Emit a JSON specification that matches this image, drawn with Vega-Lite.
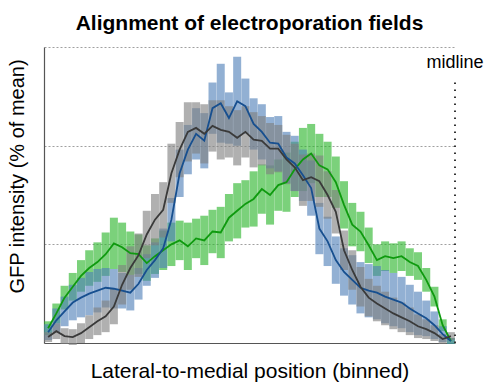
{
"$schema": "https://vega.github.io/schema/vega-lite/v6.json",
"width": 411, "height": 296,
"autosize": {"type": "none"},
"padding": {"left": 44, "top": 47, "right": 29, "bottom": 40},
"title": {"text": "Alignment of electroporation fields", "fontSize": 21, "font": "Liberation Sans", "fontWeight": "bold", "offset": 13, "color": "#000", "anchor": "middle"},
"config": {
  "view": {"stroke": null},
  "font": "Liberation Sans",
  "axisX": {"labels": false, "ticks": false, "grid": false, "domainColor": "#555", "domainWidth": 1.2, "titleFontSize": 21, "titleFontWeight": "normal", "titleColor": "#000", "titleY": 34, "titleBaseline": "alphabetic"},
  "axisY": {"labels": false, "ticks": false, "grid": true, "gridDash": [2, 2], "gridColor": "#888", "gridWidth": 0.8, "domainColor": "#555", "domainWidth": 1.2, "titleFontSize": 20, "titleFontWeight": "normal", "titleColor": "#000", "titleX": -21, "titleY": 129, "titleBaseline": "alphabetic", "titleAngle": -90, "titleAlign": "center"}
},
"datasets": {
  "bins": [
{"s":"green","x":1,"m":15,"e":7},{"s":"green","x":3,"m":30,"e":10},{"s":"green","x":5,"m":46,"e":12},{"s":"green","x":7,"m":57,"e":14},{"s":"green","x":9,"m":68,"e":16},{"s":"green","x":11,"m":76,"e":18},{"s":"green","x":13,"m":82,"e":20},{"s":"green","x":15,"m":90,"e":22},{"s":"green","x":17,"m":101,"e":26},{"s":"green","x":19,"m":97,"e":25},{"s":"green","x":21,"m":91,"e":22},{"s":"green","x":23,"m":90,"e":20},{"s":"green","x":25,"m":81,"e":18},{"s":"green","x":27,"m":88,"e":18},{"s":"green","x":29,"m":94,"e":20},{"s":"green","x":31,"m":100,"e":22},{"s":"green","x":33,"m":104,"e":20},{"s":"green","x":35,"m":98,"e":24},{"s":"green","x":37,"m":106,"e":20},{"s":"green","x":39,"m":104,"e":25},{"s":"green","x":41,"m":113,"e":22},{"s":"green","x":43,"m":112,"e":26},{"s":"green","x":45,"m":127,"e":24},{"s":"green","x":47,"m":134,"e":28},{"s":"green","x":49,"m":141,"e":24},{"s":"green","x":51,"m":146,"e":28},{"s":"green","x":53,"m":156,"e":25},{"s":"green","x":55,"m":150,"e":30},{"s":"green","x":57,"m":160,"e":26},{"s":"green","x":59,"m":163,"e":30},{"s":"green","x":61,"m":176,"e":28},{"s":"green","x":63,"m":186,"e":32},{"s":"green","x":65,"m":192,"e":30},{"s":"green","x":67,"m":180,"e":32},{"s":"green","x":69,"m":176,"e":28},{"s":"green","x":71,"m":163,"e":26},{"s":"green","x":73,"m":140,"e":24},{"s":"green","x":75,"m":120,"e":22},{"s":"green","x":77,"m":113,"e":20},{"s":"green","x":79,"m":99,"e":18},{"s":"green","x":81,"m":84,"e":16},{"s":"green","x":83,"m":88,"e":15},{"s":"green","x":85,"m":86,"e":15},{"s":"green","x":87,"m":88,"e":15},{"s":"green","x":89,"m":82,"e":14},{"s":"green","x":91,"m":78,"e":14},{"s":"green","x":93,"m":64,"e":12},{"s":"green","x":95,"m":47,"e":10},{"s":"green","x":97,"m":18,"e":6},{"s":"green","x":99,"m":2,"e":3},
{"s":"blue","x":1,"m":11,"e":8},{"s":"blue","x":3,"m":23,"e":12},{"s":"blue","x":5,"m":32,"e":15},{"s":"blue","x":7,"m":41,"e":18},{"s":"blue","x":9,"m":46,"e":20},{"s":"blue","x":11,"m":50,"e":22},{"s":"blue","x":13,"m":53,"e":22},{"s":"blue","x":15,"m":56,"e":20},{"s":"blue","x":17,"m":55,"e":20},{"s":"blue","x":19,"m":53,"e":18},{"s":"blue","x":21,"m":51,"e":18},{"s":"blue","x":23,"m":60,"e":16},{"s":"blue","x":25,"m":74,"e":16},{"s":"blue","x":27,"m":84,"e":18},{"s":"blue","x":29,"m":96,"e":20},{"s":"blue","x":31,"m":125,"e":22},{"s":"blue","x":33,"m":172,"e":24},{"s":"blue","x":35,"m":196,"e":25},{"s":"blue","x":37,"m":212,"e":26},{"s":"blue","x":39,"m":205,"e":28},{"s":"blue","x":41,"m":238,"e":26},{"s":"blue","x":43,"m":243,"e":40},{"s":"blue","x":45,"m":228,"e":26},{"s":"blue","x":47,"m":245,"e":45},{"s":"blue","x":49,"m":240,"e":28},{"s":"blue","x":51,"m":222,"e":26},{"s":"blue","x":53,"m":214,"e":28},{"s":"blue","x":55,"m":203,"e":26},{"s":"blue","x":57,"m":202,"e":28},{"s":"blue","x":59,"m":188,"e":26},{"s":"blue","x":61,"m":182,"e":28},{"s":"blue","x":63,"m":170,"e":26},{"s":"blue","x":65,"m":157,"e":28},{"s":"blue","x":67,"m":116,"e":26},{"s":"blue","x":69,"m":103,"e":25},{"s":"blue","x":71,"m":84,"e":24},{"s":"blue","x":73,"m":72,"e":24},{"s":"blue","x":75,"m":64,"e":25},{"s":"blue","x":77,"m":56,"e":26},{"s":"blue","x":79,"m":53,"e":27},{"s":"blue","x":81,"m":51,"e":27},{"s":"blue","x":83,"m":47,"e":27},{"s":"blue","x":85,"m":44,"e":27},{"s":"blue","x":87,"m":41,"e":26},{"s":"blue","x":89,"m":35,"e":24},{"s":"blue","x":91,"m":30,"e":22},{"s":"blue","x":93,"m":25,"e":18},{"s":"blue","x":95,"m":18,"e":14},{"s":"blue","x":97,"m":9,"e":8},{"s":"blue","x":99,"m":2,"e":3},
{"s":"gray","x":1,"m":6,"e":5},{"s":"gray","x":3,"m":12,"e":8},{"s":"gray","x":5,"m":7,"e":8},{"s":"gray","x":7,"m":6,"e":8},{"s":"gray","x":9,"m":10,"e":10},{"s":"gray","x":11,"m":16,"e":12},{"s":"gray","x":13,"m":22,"e":14},{"s":"gray","x":15,"m":27,"e":16},{"s":"gray","x":17,"m":37,"e":18},{"s":"gray","x":19,"m":59,"e":20},{"s":"gray","x":21,"m":76,"e":22},{"s":"gray","x":23,"m":89,"e":22},{"s":"gray","x":25,"m":110,"e":24},{"s":"gray","x":27,"m":125,"e":26},{"s":"gray","x":29,"m":135,"e":28},{"s":"gray","x":31,"m":172,"e":30},{"s":"gray","x":33,"m":196,"e":28},{"s":"gray","x":35,"m":214,"e":30},{"s":"gray","x":37,"m":218,"e":26},{"s":"gray","x":39,"m":212,"e":30},{"s":"gray","x":41,"m":220,"e":26},{"s":"gray","x":43,"m":216,"e":30},{"s":"gray","x":45,"m":214,"e":26},{"s":"gray","x":47,"m":208,"e":28},{"s":"gray","x":49,"m":214,"e":26},{"s":"gray","x":51,"m":206,"e":28},{"s":"gray","x":53,"m":205,"e":25},{"s":"gray","x":55,"m":197,"e":26},{"s":"gray","x":57,"m":197,"e":24},{"s":"gray","x":59,"m":186,"e":25},{"s":"gray","x":61,"m":178,"e":24},{"s":"gray","x":63,"m":165,"e":26},{"s":"gray","x":65,"m":168,"e":24},{"s":"gray","x":67,"m":164,"e":26},{"s":"gray","x":69,"m":150,"e":24},{"s":"gray","x":71,"m":133,"e":22},{"s":"gray","x":73,"m":94,"e":20},{"s":"gray","x":75,"m":74,"e":20},{"s":"gray","x":77,"m":57,"e":20},{"s":"gray","x":79,"m":46,"e":19},{"s":"gray","x":81,"m":40,"e":18},{"s":"gray","x":83,"m":35,"e":17},{"s":"gray","x":85,"m":30,"e":16},{"s":"gray","x":87,"m":26,"e":15},{"s":"gray","x":89,"m":22,"e":14},{"s":"gray","x":91,"m":17,"e":12},{"s":"gray","x":93,"m":14,"e":10},{"s":"gray","x":95,"m":10,"e":8},{"s":"gray","x":97,"m":4,"e":5},{"s":"gray","x":99,"m":7,"e":4}
  ],
  "mid": [{"x": 100, "m": 0, "m2": 269, "t": "midline", "ty": 279}]
},
"resolve": {"scale": {"color": "independent"}},
"layer": [
  {
    "data": {"name": "bins"},
    "mark": {"type": "errorbar", "ticks": false, "rule": {"strokeWidth": 8, "opacity": 0.62}},
    "encoding": {
      "x": {"field": "x", "type": "quantitative", "scale": {"domain": [0, 100], "nice": false}, "title": "Lateral-to-medial position (binned)"},
      "y": {"field": "m", "type": "quantitative", "scale": {"domain": [0, 300], "nice": false}, "title": "GFP intensity (% of mean)", "axis": {"values": [100, 200, 300]}},
      "yError": {"field": "e"},
      "color": {"field": "s", "type": "nominal", "scale": {"domain": ["green", "blue", "gray"], "range": ["#2ab52a", "#4f7fb8", "#808080"]}, "legend": null}
    }
  },
  {
    "data": {"name": "bins"},
    "mark": {"type": "line", "strokeWidth": 1.8},
    "encoding": {
      "x": {"field": "x", "type": "quantitative", "title": "Lateral-to-medial position (binned)"},
      "y": {"field": "m", "type": "quantitative", "title": "GFP intensity (% of mean)"},
      "color": {"field": "s", "type": "nominal", "scale": {"domain": ["green", "blue", "gray"], "range": ["#0f9a0f", "#174f8f", "#3a3a3a"]}, "legend": null}
    }
  },
  {
    "data": {"name": "mid"},
    "mark": {"type": "rule", "strokeDash": [1.5, 5.5], "strokeWidth": 2, "color": "#333"},
    "encoding": {
      "x": {"field": "x", "type": "quantitative", "title": "Lateral-to-medial position (binned)"},
      "y": {"field": "m", "type": "quantitative", "title": "GFP intensity (% of mean)"},
      "y2": {"field": "m2"}
    }
  },
  {
    "data": {"name": "mid"},
    "mark": {"type": "text", "fontSize": 18, "align": "center", "baseline": "alphabetic", "color": "#000"},
    "encoding": {
      "x": {"field": "x", "type": "quantitative", "title": "Lateral-to-medial position (binned)"},
      "y": {"field": "ty", "type": "quantitative", "title": "GFP intensity (% of mean)"},
      "text": {"field": "t"}
    }
  }
]
}
